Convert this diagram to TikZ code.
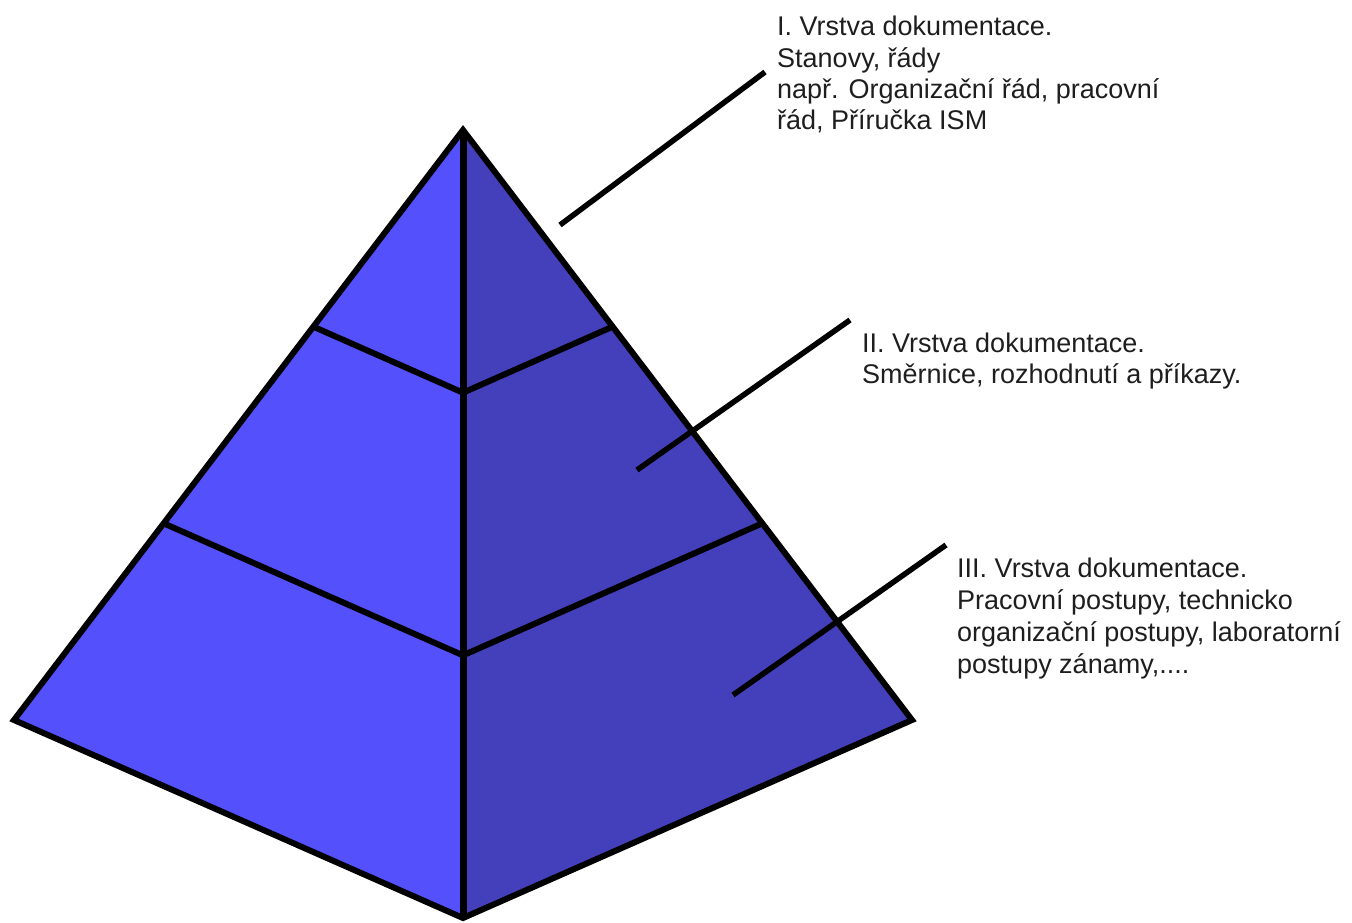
\documentclass[tikz,border=0pt]{standalone}
\usepackage{fontspec}
\setmainfont{Liberation Sans}
\usetikzlibrary{calc}
\definecolor{faceleft}{RGB}{84,80,252}
\definecolor{faceright}{RGB}{68,64,188}
\definecolor{txt}{RGB}{30,30,30}
\begin{document}
\begin{tikzpicture}[x=1pt,y=-1pt,
  edge/.style={line width=6pt,black,line join=miter},
  leader/.style={line width=5.5pt,black},
  lbl/.style={anchor=base west,inner sep=0pt,text=txt,font=\fontsize{27}{32}\selectfont}]
\useasboundingbox (0,0) rectangle (1352,922);
\coordinate (A) at (463,130);
\coordinate (L) at (14,720);
\coordinate (R) at (912,720);
\coordinate (B) at (463,918);
\coordinate (L1) at ($(A)!1/3!(L)$);
\coordinate (L2) at ($(A)!2/3!(L)$);
\coordinate (R1) at ($(A)!1/3!(R)$);
\coordinate (R2) at ($(A)!2/3!(R)$);
\coordinate (C1) at ($(A)!1/3!(B)$);
\coordinate (C2) at ($(A)!2/3!(B)$);
\fill[faceleft] (A) -- (L) -- (B) -- cycle;
\fill[faceright] (A) -- (B) -- (R) -- cycle;
\draw[edge] (L1) -- (C1) -- (R1);
\draw[edge] (L2) -- (C2) -- (R2);
\draw[edge,line width=7pt] (A) -- (B);
\draw[edge] (A) -- (L) -- (B) -- (R) -- cycle;
% leaders
\coordinate (p1) at (560,225); \coordinate (q1) at (765,72);
\coordinate (p2) at (637,470); \coordinate (q2) at (850,320);
\coordinate (p3) at (733,695); \coordinate (q3) at (946,545);
\draw[leader] (p1) -- (q1);
\draw[leader] (p2) -- (q2);
\draw[leader] (p3) -- (q3);
% texts
\node[lbl] (t1a) at (777,35) {I. Vrstva dokumentace.};
\node[lbl] (t1b) at (777,67) {Stanovy, řády};
\node[lbl] (t1c) at (777,98) {např. Organizační řád, pracovní};
\node[lbl] (t1d) at (777,129) {řád, Příručka ISM};
\node[lbl] (t2a) at (862,352) {II. Vrstva dokumentace.};
\node[lbl] (t2b) at (862,383) {Směrnice, rozhodnutí a příkazy.};
\node[lbl] (t3a) at (957,577) {III. Vrstva dokumentace.};
\node[lbl] (t3b) at (957,609) {Pracovní postupy, technicko};
\node[lbl] (t3c) at (957,641) {organizační postupy, laboratorní};
\node[lbl] (t3d) at (957,673) {postupy zánamy,....};
\end{tikzpicture}
\end{document}
